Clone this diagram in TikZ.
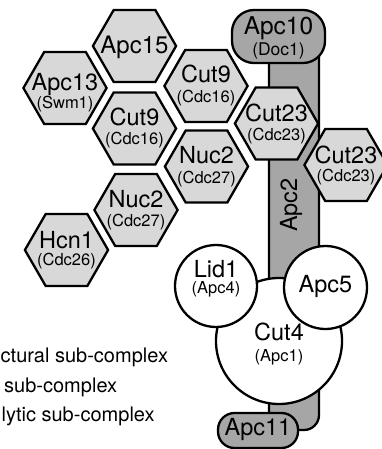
\documentclass[tikz,border=0pt]{standalone}
\usepackage{fontspec}
\setmainfont{TeX Gyre Heros}
\usetikzlibrary{shapes.geometric,calc}
\definecolor{hexgray}{RGB}{216,216,216}
\definecolor{subgray}{RGB}{166,166,166}
\begin{document}
\begin{tikzpicture}[x=1pt,y=-1pt,
  hexa/.style={regular polygon, regular polygon sides=6, minimum size=83.2pt,
    inner sep=0pt, outer sep=0pt, draw=black, line width=2.3pt, fill=hexgray},
  ball/.style={circle, draw=black, line width=2.3pt, fill=white, inner sep=0pt, outer sep=0pt},
  pill/.style={rectangle, draw=black, line width=2.3pt, fill=subgray, inner sep=0pt, outer sep=0pt},
  big/.style={font=\fontsize{23.5}{23.5}\selectfont, inner sep=0pt, anchor=base},
  small/.style={font=\fontsize{16.5}{16.5}\selectfont, inner sep=0pt, anchor=base},
  legend/.style={font=\fontsize{20}{20}\selectfont, inner sep=0pt, anchor=base west}]
\useasboundingbox (0,0) rectangle (382,449);

% long scaffold subunit running behind the whole complex
\node[pill, rounded corners=15pt, minimum width=50pt, minimum height=405pt] (apc2) at (294,227.5) {};
\node[pill, rounded corners=22pt, minimum width=93pt, minimum height=53pt] (apc10) at (278.5,36.5) {};

% TPR honeycomb
\node[hexa] (apc15) at (134.5,46) {};
\node[hexa] (apc13) at (65,88) {};
\node[hexa] (cut9a) at (134.5,128.5) {};
\node[hexa] (cut9b) at (206,86) {};
\node[hexa] (nuc2a) at (136,210) {};
\node[hexa] (nuc2b) at (206.5,166.5) {};
\node[hexa] (hcn1) at (66.5,250) {};
\node[hexa] (cut23a) at (276.5,123.5) {};
\node[hexa] (cut23b) at (346,165) {};

% platform subunits
\node[ball, minimum size=126pt] (cut4) at (279,341) {};
\node[ball, minimum size=82pt] (lid1) at (216,286) {};
\node[ball, minimum size=83pt] (apc5) at (325.5,287.5) {};
\node[pill, rounded corners=16.5pt, minimum width=80pt, minimum height=35pt] (apc11) at (258,430.5) {};

% labels
\node[big, font=\fontsize{24.5}{24.5}\selectfont] (apc10-t) at ($(apc10)+(0,-1.5)$) {Apc10};
\node[small, font=\fontsize{17.5}{17.5}\selectfont] (apc10-s) at ($(apc10)+(0,19)$) {(Doc1)};
\node[big, font=\fontsize{24}{24}\selectfont] (apc15-t) at ($(apc15)+(0,7.5)$) {Apc15};
\node[big] (apc13-t) at ($(apc13)+(0,2.7)$) {Apc13};
\node[small] (apc13-s) at ($(apc13)+(0,21)$) {(Swm1)};
\node[big] (cut9a-t) at ($(cut9a)+(0,-3)$) {Cut9};
\node[small] (cut9a-s) at ($(cut9a)+(0,16.5)$) {(Cdc16)};
\node[big] (cut9b-t) at ($(cut9b)+(0,-3)$) {Cut9};
\node[small] (cut9b-s) at ($(cut9b)+(0,16.5)$) {(Cdc16)};
\node[big] (nuc2a-t) at ($(nuc2a)+(0,-3)$) {Nuc2};
\node[small] (nuc2a-s) at ($(nuc2a)+(0,16.5)$) {(Cdc27)};
\node[big] (nuc2b-t) at ($(nuc2b)+(0,-3)$) {Nuc2};
\node[small] (nuc2b-s) at ($(nuc2b)+(0,16.5)$) {(Cdc27)};
\node[big] (hcn1-t) at ($(hcn1)+(0,-1.7)$) {Hcn1};
\node[small] (hcn1-s) at ($(hcn1)+(0,15.5)$) {(Cdc26)};
\node[big] (cut23a-t) at ($(cut23a)+(0,-1.8)$) {Cut23};
\node[small] (cut23a-s) at ($(cut23a)+(0,17.5)$) {(Cdc23)};
\node[big] (cut23b-t) at ($(cut23b)+(0,-1.7)$) {Cut23};
\node[small] (cut23b-s) at ($(cut23b)+(0,16.7)$) {(Cdc23)};
\node[big, anchor=center, rotate=90] (apc2-t) at (291,205) {Apc2};
\node[big] (lid1-t) at ($(lid1)+(0,-9)$) {Lid1};
\node[small] (lid1-s) at ($(lid1)+(0,7.5)$) {(Apc4)};
\node[big] (apc5-t) at ($(apc5)+(0,4.5)$) {Apc5};
\node[big] (cut4-t) at ($(cut4)+(0,-1)$) {Cut4};
\node[small] (cut4-s) at ($(cut4)+(0,20)$) {(Apc1)};
\node[big] (apc11-t) at ($(apc11)+(0,4.5)$) {Apc11};

% key
\node[legend] (leg1) at (0.5,362) {ctural sub-complex};
\node[legend] (leg2) at (4,392) {sub-complex};
\node[legend] (leg3) at (1.5,421) {lytic sub-complex};
\end{tikzpicture}
\end{document}
